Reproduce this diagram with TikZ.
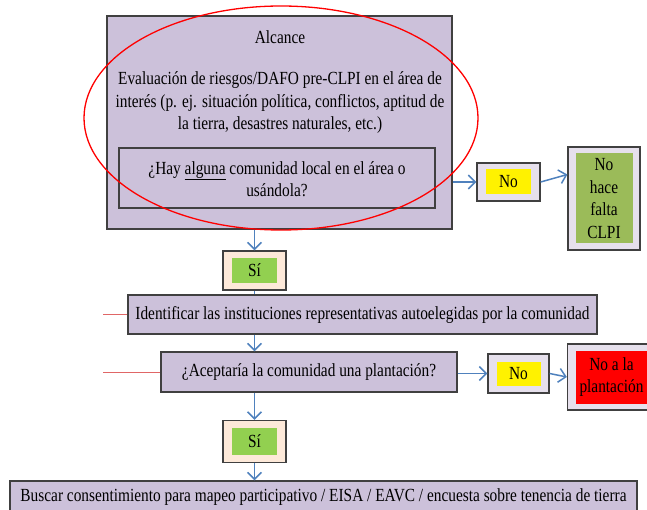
\documentclass[tikz,border=0pt]{standalone}
\usepackage{fontspec}
\setmainfont{Liberation Serif}[FakeStretch=0.83]
\usetikzlibrary{arrows.meta}

\definecolor{boxlila}{HTML}{CCC1DA}
\definecolor{palelila}{HTML}{E6E0EC}
\definecolor{peach}{HTML}{FDE9D9}
\definecolor{sigreen}{HTML}{92D050}
\definecolor{olivegreen}{HTML}{9BBB59}
\definecolor{flowblue}{HTML}{4F81BD}
\definecolor{edgegray}{HTML}{404040}
\definecolor{linered}{HTML}{E06666}

\tikzset{
  stepbox/.style={draw=edgegray, fill=boxlila, line width=1.3pt, inner sep=0pt},
  outerbox/.style={draw=edgegray, line width=1.3pt, inner sep=0pt},
  innerbox/.style={inner sep=0pt, align=center},
  flow/.style={draw=flowblue, line width=1.5pt, -{Straight Barb[length=7pt,width=14pt]}},
  sideline/.style={draw=linered, line width=1pt},
}

\begin{document}
\begin{tikzpicture}[x=1pt, y=-1pt, font=\fontsize{18.5}{22.5}\selectfont]
    \useasboundingbox (0,0) rectangle (647,510);

    % Scope box
    \node[stepbox, minimum width=345pt, minimum height=213pt] (alcance) at (279.5,122.5) {};
    \node (alctitle) at (280,37) {Alcance};
    \node[align=center] (evalua) at (280,103) {Evaluación de riesgos/DAFO pre-CLPI en el área de\\
        interés (p. ej. situación política, conflictos, aptitud de\\
        la tierra, desastres naturales, etc.)};
    \node[outerbox, minimum width=316pt, minimum height=60pt] (hay) at (277,178) {};
    \node[align=center] (haytext) at (277,179) {¿Hay \underline{alguna} comunidad local en el área o\\ usándola?};

    % Red ellipse on top
    \draw[red, line width=1.3pt] (281,118) ellipse [x radius=197pt, y radius=112pt];

    % First answer: no
    \node[outerbox, fill=palelila, minimum width=63pt, minimum height=38pt] (no1) at (508.5,182) {};
    \node[innerbox, fill=yellow, minimum width=45pt, minimum height=25pt] (no1in) at (no1) {No};
    \node[outerbox, fill=palelila, minimum width=72pt, minimum height=103pt] (nohace) at (604,198.5) {};
    \node[innerbox, fill=olivegreen, minimum width=57pt, minimum height=90pt] (nohacein) at (nohace) {No\\ hace\\ falta\\ CLPI};

    % First answer: yes
    \node[outerbox, fill=peach, minimum width=63pt, minimum height=39pt] (sia) at (254.5,270.5) {};
    \node[innerbox, fill=sigreen, minimum width=45pt, minimum height=25pt] (siain) at (sia) {Sí};

    % Steps
    \node[stepbox, minimum width=469pt, minimum height=39pt] (ident) at (362.5,314.5)
        {Identificar las instituciones representativas autoelegidas por la comunidad};
    \node[stepbox, minimum width=296pt, minimum height=40pt] (acepta) at (309,372)
        {¿Aceptaría la comunidad una plantación?};

    % Second answer: no
    \node[outerbox, fill=palelila, minimum width=61pt, minimum height=39pt] (no2) at (518.5,373.5) {};
    \node[innerbox, fill=yellow, minimum width=44pt, minimum height=24pt] (no2in) at (no2) {No};
    \node[outerbox, fill=palelila, minimum width=88pt, minimum height=66pt] (noplant) at (611.5,377) {};
    \node[innerbox, fill=red, minimum width=72pt, minimum height=53pt] (noplantin) at (noplant) {No a la\\ plantación};

    % Second answer: yes
    \node[outerbox, fill=peach, minimum width=63pt, minimum height=42pt] (sib) at (254.5,441.5) {};
    \node[innerbox, fill=sigreen, minimum width=45pt, minimum height=27pt] (sibin) at (sib) {Sí};

    % Last step
    \node[stepbox, minimum width=627pt, minimum height=44pt] (buscar) at (323.5,503) {};
    \node (buscartext) at (323.5,497)
        {Buscar consentimiento para mapeo participativo / EISA / EAVC / encuesta sobre tenencia de tierra};

    % Red leads on the left
    \coordinate (lead1) at (103,314.5);
    \coordinate (lead2) at (103,372);
    \draw[sideline] (lead1) -- (ident.west);
    \draw[sideline] (lead2) -- (acepta.west);

    % Arrows
    \draw[flow] (sia.north |- alcance.south) -- (sia.north);
    \draw[flow] (alcance.east |- no1) -- (no1.west);
    \draw[flow] (no1.east) -- ([yshift=24pt]nohace.west);
    \draw[flowblue, line width=1.5pt] (sia.south) -- (sia.south |- ident.north);
    \draw[flow] (sia.south |- ident.south) -- (sia.south |- acepta.north);
    \draw[flow] (acepta.east |- no2) -- (no2.west);
    \draw[flow] (no2.east) -- (noplant.west);
    \draw[flow] (sib.north |- acepta.south) -- (sib.north);
    \draw[flow] (sib.south) -- (sib.south |- buscar.north);
\end{tikzpicture}
\end{document}
